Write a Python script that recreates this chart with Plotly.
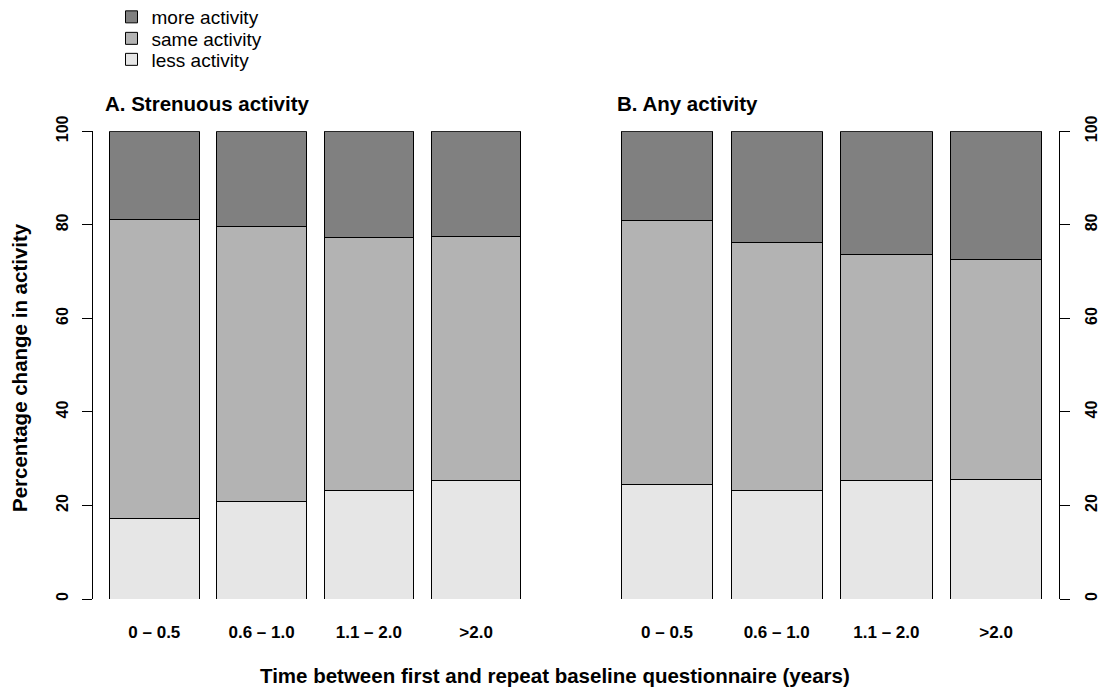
import plotly.graph_objects as go

# ---- data ----
categories = ["0 – 0.5", "0.6 – 1.0", "1.1 – 2.0", ">2.0"]
series_names = ["less activity", "same activity", "more activity"]

strenuous_less = [17.3, 20.9, 23.1, 25.4]
strenuous_same = [63.9, 58.7, 54.2, 52.1]
strenuous_more = [18.8, 20.4, 22.7, 22.5]

any_less = [24.4, 23.2, 25.4, 25.6]
any_same = [56.6, 53.0, 48.3, 46.9]
any_more = [19.0, 23.8, 26.3, 27.5]

y_ticks = [0, 20, 40, 60, 80, 100]

panel_titles = ["A. Strenuous activity", "B. Any activity"]
y_title = "Percentage change in activity"
x_title = "Time between first and repeat baseline questionnaire (years)"

colors = {"less activity": "#E6E6E6", "same activity": "#B3B3B3", "more activity": "#808080"}
FONT = "Liberation Sans, Arial, Helvetica, sans-serif"

W, H = 1100, 687


def px_x(p):
    """page pixel x -> paper fraction"""
    return p / W


def px_y(p):
    """page pixel y (from top) -> paper fraction"""
    return 1 - p / H


# one legend per entry so the rows can be spaced like the reference
legend_of = {"more activity": "legend", "same activity": "legend2", "less activity": "legend3"}
legend_row_y = {"legend": 17.0, "legend2": 38.5, "legend3": 59.5}

fig = go.Figure()
panels = [
    ("x", "y", [strenuous_less, strenuous_same, strenuous_more], True),
    ("x2", "y2", [any_less, any_same, any_more], False),
]
for xa, ya, vals, show in panels:
    for name, v in zip(series_names, vals):
        fig.add_trace(go.Bar(
            x=categories, y=v, name=name, xaxis=xa, yaxis=ya,
            marker=dict(color=colors[name], line=dict(color="black", width=1)),
            showlegend=show, legend=legend_of[name], hoverinfo="skip",
        ))

ydom = [px_y(599), px_y(131.3)]
xrange = [-0.57, 3.57]

xaxis_common = dict(
    type="category", range=xrange, showline=False, showgrid=False, zeroline=False,
    ticks="", tickfont=dict(family=FONT, size=17, color="black", weight="bold"),
    ticklabelstandoff=21, automargin=False, fixedrange=True,
)
yaxis_common = dict(
    range=[0, 100], domain=ydom, tickvals=y_ticks, ticks="outside", ticklen=10,
    tickcolor="black", tickwidth=1, showline=True, linecolor="black", linewidth=1,
    showgrid=False, zeroline=False, tickangle=-90, automargin=False,
    tickfont=dict(family=FONT, size=16, color="black", weight="bold"),
    ticklabelstandoff=8, fixedrange=True,
)

legend_common = dict(
    xanchor="left", yanchor="middle",
    font=dict(family=FONT, size=19, color="black"),
    bgcolor="rgba(0,0,0,0)", borderwidth=0, itemwidth=30,
)

fig.update_layout(
    width=W, height=H, margin=dict(l=0, r=0, t=0, b=0, autoexpand=False),
    paper_bgcolor="white", plot_bgcolor="white",
    barmode="stack", bargap=1 - 1 / 1.2,
    xaxis=dict(domain=[px_x(93.2), px_x(537.2)], anchor="y", **xaxis_common),
    yaxis=dict(anchor="x", side="left", **yaxis_common),
    xaxis2=dict(domain=[px_x(604.5), px_x(1058.6)], anchor="y2", **xaxis_common),
    yaxis2=dict(anchor="x2", side="right", **yaxis_common),
    showlegend=True,
    legend=dict(x=px_x(111.5), y=px_y(legend_row_y["legend"]), **legend_common),
    legend2=dict(x=px_x(111.5), y=px_y(legend_row_y["legend2"]), **legend_common),
    legend3=dict(x=px_x(111.5), y=px_y(legend_row_y["legend3"]), **legend_common),
    font=dict(family=FONT, color="black"),
)

annotations = [
    dict(text=panel_titles[0], x=px_x(103), y=px_y(104), xanchor="left", yanchor="middle"),
    dict(text=panel_titles[1], x=px_x(615), y=px_y(104), xanchor="left", yanchor="middle"),
    dict(text=x_title, x=px_x(555), y=px_y(675), xanchor="center", yanchor="middle"),
    dict(text=y_title, x=px_x(19), y=px_y(368), xanchor="center", yanchor="middle", textangle=-90),
]
for a in annotations:
    fig.add_annotation(
        xref="paper", yref="paper", showarrow=False,
        font=dict(family=FONT, size=20.5, color="black", weight="bold"), **a,
    )

# remove the browser's default 8px body margin so the figure fills the window
fig.write_html(
    "out.html",
    config={"displayModeBar": False, "staticPlot": True},
    post_script="document.body.style.margin='0px';",
)
